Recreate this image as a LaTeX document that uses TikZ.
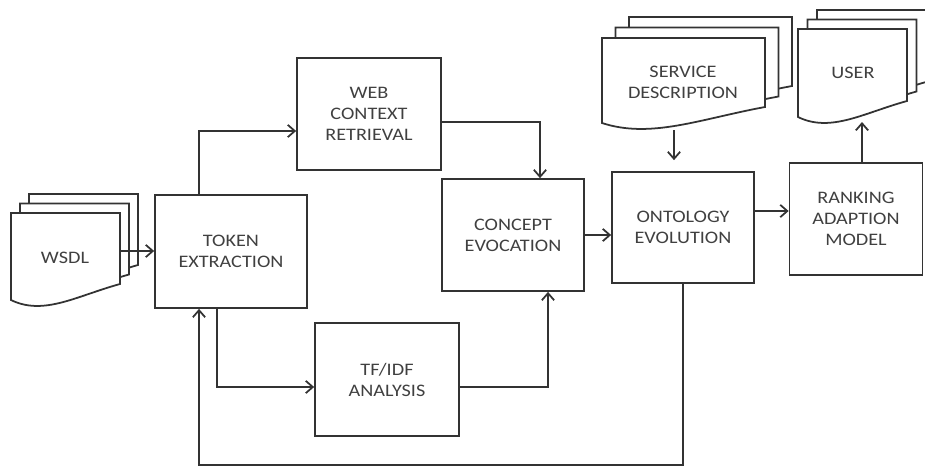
\documentclass[tikz,border=0pt]{standalone}
\usepackage{fontspec}
\setmainfont{Carlito}[FakeStretch=1.15]
\usetikzlibrary{arrows.meta}
\newdimen\pxu \pxu=0.02cm
% one sheet with a wavy bottom: left, top, right, bottom
\newcommand{\docsheet}[4]{%
  \draw[sheet] (#1,#2) -- (#3,#2) -- (#3,{#4-16})
    .. controls ({#1+0.6*(#3-#1)},{#4-4}) and ({#1+0.3*(#3-#1)},{#4+16}) .. (#1,#4) -- cycle;}
% three sheets, back to front: left, top, right, bottom, dx, dy
\newcommand{\docstack}[6]{%
  \foreach \o in {2,1,0} {\begin{scope}[shift={({#5*\o},{#6*\o})}]\docsheet{#1}{#2}{#3}{#4}\end{scope}}}
\begin{document}
\begin{tikzpicture}[x=0.02cm,y=-0.02cm,line width=1pt,
  sheet/.style={draw=black!80,fill=white},
  box/.style={draw=black!80,align=center,inner sep=0pt,text=black!75,font=\fontsize{10}{12}\selectfont},
  doctext/.style={align=center,inner sep=0pt,text=black!75,font=\fontsize{10}{12}\selectfont},
  flow/.style={draw=black!80,-{Straight Barb[length=4pt,width=7pt]}}]
  \useasboundingbox (0,0) rectangle (925,468);
  % documents
  \docstack{11}{213}{120}{300}{9}{-9.5}
  \docstack{602}{38}{765}{123}{13.5}{-10.5}
  \docstack{798}{29}{907}{117}{9.5}{-9.5}
  \node[doctext] (wsdl) at (65,258) {WSDL};
  \node[doctext] (service) at (683,82) {SERVICE\\DESCRIPTION};
  \node[doctext] (user) at (853,73) {USER};
  \coordinate (wsdlout) at (120,251);
  \coordinate (serviceout) at (674,130);
  \coordinate (userin) at (862,122);
  \coordinate (loop) at (0,465);
  % process boxes
  \node[box,minimum width=152\pxu,minimum height=113\pxu] (token) at (231,251.5) {TOKEN\\EXTRACTION};
  \node[box,minimum width=144\pxu,minimum height=112\pxu] (web) at (369,114) {WEB\\CONTEXT\\RETRIEVAL};
  \node[box,minimum width=142\pxu,minimum height=112\pxu] (concept) at (513,235) {CONCEPT\\EVOCATION};
  \node[box,minimum width=144\pxu,minimum height=113\pxu] (tfidf) at (387,379.5) {TF/IDF\\ANALYSIS};
  \node[box,minimum width=142\pxu,minimum height=111\pxu] (onto) at (683,227.5) {ONTOLOGY\\EVOLUTION};
  \node[box,minimum width=133\pxu,minimum height=112\pxu] (rank) at (856,219) {RANKING\\ADAPTION\\MODEL};
  % connectors
  \draw[flow] (wsdlout) -- (wsdlout -| token.west);
  \draw[flow] ([xshift=-32\pxu]token.north) |- ([yshift=-17\pxu]web.west);
  \draw[flow] ([yshift=-8\pxu]web.east) -| ([xshift=27\pxu]concept.north);
  \draw[flow] ([xshift=-14\pxu]token.south) |- ([yshift=-7.5\pxu]tfidf.west);
  \draw[flow] ([yshift=-7.5\pxu]tfidf.east) -| ([xshift=35\pxu]concept.south);
  \draw[flow] (concept.east) -- (concept.east -| onto.west);
  \draw[flow] ([yshift=16.5\pxu]onto.east) -- ([yshift=16.5\pxu]onto.east -| rank.west);
  \draw[flow,shorten >=11\pxu] (serviceout) -- (serviceout |- onto.north);
  \draw[flow] ([xshift=6\pxu]rank.north) -- (userin);
  \draw[flow] (onto.south) -- (onto.south |- loop) -| ([xshift=-32\pxu]token.south);
\end{tikzpicture}
\end{document}
